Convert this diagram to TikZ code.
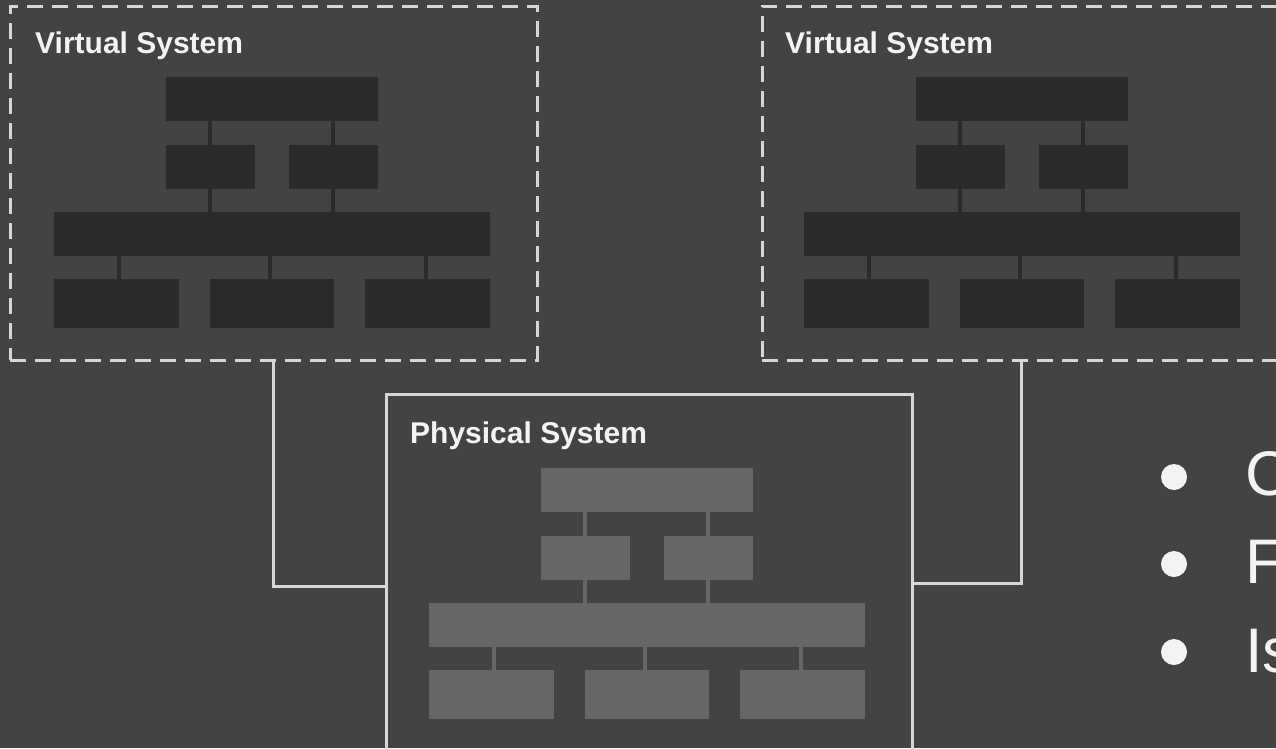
\documentclass[tikz,border=0pt]{standalone}
\usepackage{fontspec}
\setmainfont{Liberation Sans}
\definecolor{Slate}{HTML}{434343}
\definecolor{Frame}{HTML}{D6D6D6}
\definecolor{VirtBlk}{HTML}{2B2B2B}
\definecolor{PhysBlk}{HTML}{666666}
\definecolor{Ink}{HTML}{F3F3F3}

% block stack inside a system box (coordinates relative to the left box)
\newcommand\sysblocks[1]{%
  \draw[#1, line width=4pt] (210,121) -- (210,212) (333,121) -- (333,212);
  \draw[#1, line width=4pt] (119,256) -- (119,279) (270,256) -- (270,279) (426,256) -- (426,279);
  \fill[#1] (166,77) rectangle (378,121);
  \fill[#1] (166,145) rectangle (255,189);
  \fill[#1] (289,145) rectangle (378,189);
  \fill[#1] (54,212) rectangle (490,256);
  \fill[#1] (54,279) rectangle (179,328);
  \fill[#1] (210,279) rectangle (334,328);
  \fill[#1] (365,279) rectangle (490,328);
}

\begin{document}
\begin{tikzpicture}[x=1pt, y=-1pt,
    vbox/.style={draw=Frame, line width=3pt, dash pattern=on 16pt off 9pt, anchor=north west, inner sep=0pt, outer sep=0pt},
    pbox/.style={draw=Frame, line width=3pt, anchor=north west, inner sep=0pt, outer sep=0pt},
    lbl/.style={text=Ink, font=\fontsize{30}{36}\selectfont\bfseries, inner sep=0pt, anchor=base west},
    lnk/.style={draw=Frame, line width=3pt},
    dot/.style={circle, fill=Ink, minimum size=26pt, inner sep=0pt},
    item/.style={text=Ink, font=\fontsize{63}{76}\selectfont, inner sep=0pt, anchor=base west}]
  \useasboundingbox (0,0) rectangle (1276,748);
  \fill[Slate] (0,0) rectangle (1276,748);

  % virtual systems
  \sysblocks{VirtBlk}
  \begin{scope}[shift={(750,0)}]
    \sysblocks{VirtBlk}
  \end{scope}
  \node[vbox, minimum width=527pt, minimum height=354pt] (vsysL) at (10,6) {};
  \node[vbox, minimum width=518pt, minimum height=354pt] (vsysR) at (762,6) {};
  \node[lbl] (vlblL) at (35,53) {Virtual System};
  \node[lbl] (vlblR) at (785,53) {Virtual System};

  % physical system
  \begin{scope}[shift={(375,391)}]
    \sysblocks{PhysBlk}
  \end{scope}
  \node[pbox, minimum width=526pt, minimum height=356pt] (psys) at (386,394) {};
  \node[lbl] (plbl) at (410,443) {Physical System};

  % links
  \draw[lnk] (vsysL.south) |- ([yshift=-14pt]psys.west);
  \draw[lnk] (vsysR.south) |- ([yshift=-11pt]psys.east);

  % bullets
  \node[dot] (dot1) at (1174,477) {};
  \node[dot] (dot2) at (1174,564) {};
  \node[dot] (dot3) at (1174,652) {};
  \node[item] (item1) at (1245,495) {C};
  \node[item] (item2) at (1245,583) {F};
  \node[item] (item3) at (1245,672) {Is};
\end{tikzpicture}
\end{document}
